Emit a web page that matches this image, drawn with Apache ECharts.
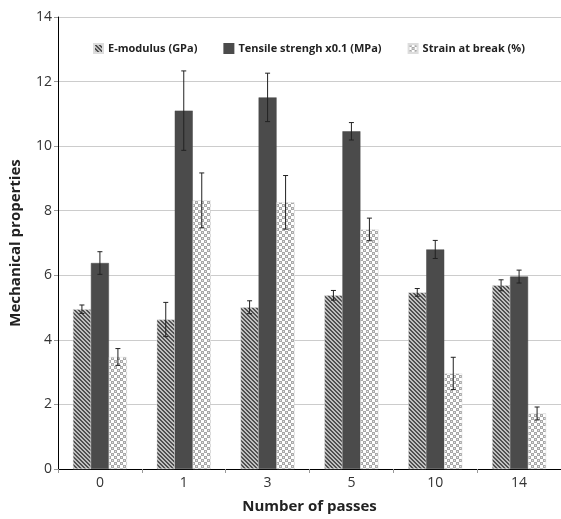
<!DOCTYPE html>
<html><head><meta charset="utf-8">
<script src="https://cdn.jsdelivr.net/npm/echarts@6/dist/echarts.min.js"></script>
<style>html,body{margin:0;padding:0;background:#fff}#c{width:561px;height:519px}</style>
</head><body><div id="c"></div>
<script>
const categories = ['0', '1', '3', '5', '10', '14'];
const seriesNames = ['E-modulus (GPa)', 'Tensile strengh x0.1 (MPa)', 'Strain at break (%)'];
const eModulus = [4.95, 4.63, 5.01, 5.38, 5.47, 5.69];
const eModulusErr = [0.13, 0.53, 0.2, 0.15, 0.12, 0.17];
const tensile = [6.38, 11.1, 11.51, 10.46, 6.8, 5.96];
const tensileErr = [0.35, 1.23, 0.75, 0.27, 0.28, 0.2];
const strain = [3.47, 8.32, 8.26, 7.42, 2.96, 1.72];
const strainErr = [0.26, 0.85, 0.83, 0.35, 0.5, 0.2];
const yTicks = [0, 2, 4, 6, 8, 10, 12, 14];

function makePattern(type) {
  const c = document.createElement('canvas');
  if (type === 'diag') {
    c.width = 4; c.height = 4;
    const g = c.getContext('2d');
    g.fillStyle = '#c0c0c0'; g.fillRect(0, 0, 4, 4);
    g.fillStyle = '#505050';
    for (let i = 0; i < 4; i++) { g.fillRect(i, i, 1, 1); g.fillRect((i + 1) % 4, i, 1, 1); }
  } else {
    c.width = 6; c.height = 6;
    const g = c.getContext('2d');
    g.fillStyle = '#ffffff'; g.fillRect(0, 0, 6, 6);
    g.fillStyle = '#a8a8a8';
    g.fillRect(0, 0, 3, 3); g.fillRect(3, 3, 3, 3);
    g.fillStyle = '#e2e2e2';
    g.fillRect(1, 1, 1, 1); g.fillRect(4, 4, 1, 1);
  }
  return { image: c, repeat: 'repeat' };
}
const colors = [makePattern('diag'), '#4b4b4b', makePattern('check')];
const values = [eModulus, tensile, strain];
const errs = [eModulusErr, tensileErr, strainErr];
const BW = 18;

const series = [];
values.forEach((v, s) => {
  series.push({
    name: seriesNames[s], type: 'bar', data: v, barWidth: BW, barGap: '0%',
    itemStyle: { color: colors[s], borderColor: s === 1 ? '#4b4b4b' : '#dddddd', borderWidth: 0.5 },
    z: 2
  });
});
values.forEach((v, s) => {
  series.push({
    type: 'custom', z: 5, silent: true,
    data: v.map((val, i) => [i, val, errs[s][i]]),
    renderItem: function (params, api) {
      const i = api.value(0), val = api.value(1), e = api.value(2);
      const pTop = api.coord([i, val + e]);
      const pBot = api.coord([i, val - e]);
      const x = pTop[0] + (s - 1) * BW;
      const st = { stroke: '#222', lineWidth: 1 };
      return { type: 'group', children: [
        { type: 'line', shape: { x1: x, y1: pTop[1], x2: x, y2: pBot[1] }, style: st },
        { type: 'line', shape: { x1: x - 2.5, y1: pTop[1], x2: x + 2.5, y2: pTop[1] }, style: st },
        { type: 'line', shape: { x1: x - 2.5, y1: pBot[1], x2: x + 2.5, y2: pBot[1] }, style: st }
      ]};
    }
  });
});

const chart = echarts.init(document.getElementById('c'), null, { renderer: 'canvas' });
chart.setOption({
  animation: false,
  backgroundColor: '#fff',
  grid: { left: 56, right: 0, top: 17, bottom: 43, containLabel: false },
  legend: {
    data: seriesNames, top: 38, left: 88, itemWidth: 9, itemHeight: 9, itemGap: 26,
    textStyle: { fontFamily: 'Open Sans', fontWeight: 'bold', fontSize: 11, color: '#222' },
    icon: 'rect'
  },
  xAxis: {
    type: 'category', data: categories,
    name: 'Number of passes', nameLocation: 'middle', nameGap: 30,
    nameTextStyle: { fontFamily: 'Open Sans', fontWeight: 'bold', fontSize: 15, color: '#222' },
    axisLine: { lineStyle: { color: '#000', width: 1 } },
    axisTick: { show: true, length: 4, lineStyle: { color: '#999' } },
    axisLabel: { fontFamily: 'Open Sans', fontSize: 14, color: '#333', margin: 7 }
  },
  yAxis: {
    type: 'value', min: 0, max: 14, interval: 2,
    name: 'Mechanical properties', nameLocation: 'middle', nameGap: 35,
    nameTextStyle: { fontFamily: 'Open Sans', fontWeight: 'bold', fontSize: 15, color: '#222' },
    axisLine: { show: true, lineStyle: { color: '#000', width: 1 } },
    axisTick: { show: true, length: 4, lineStyle: { color: '#999' } },
    axisLabel: { fontFamily: 'Open Sans', fontSize: 14, color: '#333', margin: 6,
      formatter: v => yTicks.includes(v) ? String(v) : '' },
    splitLine: { lineStyle: { color: '#cccccc', width: 1 } }
  },
  series: series
});
</script></body></html>
